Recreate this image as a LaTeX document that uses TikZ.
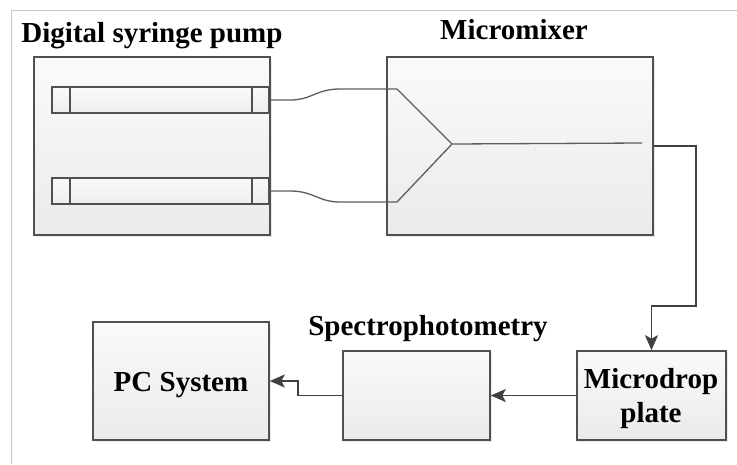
\documentclass[tikz,border=0pt]{standalone}
\usepackage{fontspec}
\setmainfont{Liberation Serif}
\usetikzlibrary{arrows.meta,shadows}
\definecolor{edge}{HTML}{505050}
\definecolor{wire}{HTML}{404040}
\begin{document}
\begin{tikzpicture}[x=1pt,y=-1pt,
  box/.style={draw=edge,line width=1.6pt,top color=white!98!black,bottom color=white!92!black,
    rectangle,inner sep=0pt,drop shadow={shadow xshift=1.5pt,shadow yshift=-1.5pt,opacity=0.18}},
  syr/.style={draw=edge,line width=1.4pt,top color=white!98!black,bottom color=white!93!black,rectangle,inner sep=0pt},
  lab/.style={font=\fontsize{29}{34}\selectfont\bfseries,inner sep=0pt,anchor=base,align=center},
  conn/.style={draw=wire,line width=1.9pt},
  arr/.style={conn,-{Stealth[length=15pt,width=13pt,inset=3.5pt]}},
  tube/.style={draw=wire!85,line width=1.3pt}]
\useasboundingbox (0,0) rectangle (737,464);
\fill[white] (0,0) rectangle (737,464);
% outer frame
\draw[black!22,line width=1pt] (11,464) -- (11,10) -- (737,10);
% boxes
\node[box,minimum width=236pt,minimum height=178pt] (pump) at (152,146) {};
\node[syr,minimum width=217pt,minimum height=26pt] (syr1) at (160.5,100) {};
\node[syr,minimum width=217pt,minimum height=26pt] (syr2) at (160.5,191) {};
\draw[edge,line width=1.4pt] (70,87) -- (70,113) (252,87) -- (252,113);
\draw[edge,line width=1.4pt] (70,178) -- (70,204) (252,178) -- (252,204);
\node[box,minimum width=266pt,minimum height=178pt] (mixer) at (520,146) {};
\node[box,minimum width=176pt,minimum height=118pt] (pc) at (181,381) {};
\node[box,minimum width=147pt,minimum height=89pt] (spec) at (416.5,395.5) {};
\node[box,minimum width=149pt,minimum height=89pt] (micro) at (651.5,395.5) {};
% labels
\node[lab] (tpump) at (152,42) {Digital syringe pump};
\node[lab] (tmixer) at (514,39) {Micromixer};
\node[lab] (tspec) at (428,335) {Spectrophotometry};
\node[lab] (tpc) at (181,391) {PC System};
\node[lab] (tmicro) at (651,422) {Microdrop\\plate};
% tubes and mixing channel
\coordinate (j) at (452,144);
\coordinate (out) at (642,143);
\draw[tube] (syr1.east) -- (290,100) .. controls (312,100) and (316,89) .. (340,89) -- (397,89) -- (j) -- (out);
\draw[tube] (syr2.east) -- (290,191) .. controls (314,191) and (318,202) .. (340,202) -- (397,202) -- (j);
% connectors
\coordinate (c1) at (696,306);
\coordinate (c2) at (298,395.5);
\draw[arr] (mixer.east) -| (c1) -| (micro.north);
\draw[arr] (micro.west) -- (spec.east);
\draw[arr] (spec.west) -- (c2) |- (pc.east);
\end{tikzpicture}
\end{document}
